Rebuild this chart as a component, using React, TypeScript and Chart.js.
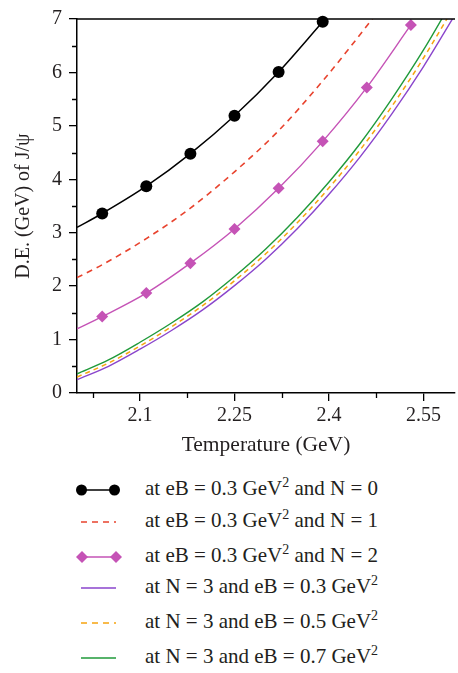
import React, { useEffect, useRef } from "react";
import { Chart, registerables } from "chart.js";

Chart.register(...registerables);

// ---- data ----
const tempN0 = [2.0, 2.04, 2.11, 2.18, 2.25, 2.32, 2.39];
const deN0 = [3.1, 3.36, 3.87, 4.48, 5.19, 6.01, 6.95];

const tempN1 = [2.0, 2.04, 2.11, 2.18, 2.25, 2.32, 2.39, 2.43, 2.47];
const deN1 = [2.16, 2.4, 2.89, 3.46, 4.14, 4.91, 5.84, 6.42, 7.02];

const tempN2 = [2.0, 2.04, 2.11, 2.18, 2.25, 2.32, 2.39, 2.46, 2.53];
const deN2 = [1.2, 1.43, 1.87, 2.43, 3.07, 3.83, 4.71, 5.72, 6.89];

const tempN3 = [2.0, 2.05, 2.1, 2.15, 2.2, 2.25, 2.3, 2.35, 2.4, 2.45, 2.5, 2.55, 2.6];
const deEB03 = [0.25, 0.5, 0.82, 1.17, 1.56, 2.01, 2.51, 3.08, 3.72, 4.43, 5.23, 6.11, 7.08];
const deEB05 = [0.3, 0.56, 0.88, 1.24, 1.64, 2.1, 2.61, 3.19, 3.84, 4.56, 5.37, 6.27, 7.26];
const deEB07 = [0.36, 0.62, 0.95, 1.31, 1.71, 2.18, 2.7, 3.29, 3.95, 4.68, 5.51, 6.42, 7.43];

const xMajorTicks = [2.1, 2.25, 2.4, 2.55];
const xMinorTicks = [2.025, 2.175, 2.325, 2.475];
const yMajorTicks = [0, 1, 2, 3, 4, 5, 6, 7];
const yMinorTicks = [0.5, 1.5, 2.5, 3.5, 4.5, 5.5, 6.5];

const legendLabels = [
  ["at eB = 0.3 GeV", "2", " and N = 0"],
  ["at eB = 0.3 GeV", "2", " and N = 1"],
  ["at eB = 0.3 GeV", "2", " and N = 2"],
  ["at N = 3 and eB = 0.3 GeV", "2", ""],
  ["at N = 3 and eB = 0.5 GeV", "2", ""],
  ["at N = 3 and eB = 0.7 GeV", "2", ""],
];

const FONT = "'Liberation Serif', 'Times New Roman', serif";
const TEXT = "#231f20";
const C_BLACK = "#000000";
const C_RED = "#e8432e";
const C_MAG = "#c553b6";
const C_PUR = "#8a45cc";
const C_ORG = "#f6a40f";
const C_GRN = "#1f9a3a";

const W = 461;
const H = 462;

const pts = (xs: number[], ys: number[]) => xs.map((x, i) => ({ x, y: ys[i] }));

const framePlugin = {
  id: "frameMinor",
  afterDraw(chart: any) {
    const { ctx, chartArea, scales } = chart;
    ctx.save();
    ctx.strokeStyle = "#000";
    ctx.lineWidth = 1.3;
    ctx.beginPath();
    ctx.moveTo(chartArea.left, chartArea.top);
    ctx.lineTo(chartArea.right, chartArea.top);
    xMinorTicks.forEach((v) => {
      const px = Math.round(scales.x.getPixelForValue(v)) + 0.5;
      ctx.moveTo(px, chartArea.bottom);
      ctx.lineTo(px, chartArea.bottom + 5);
    });
    yMinorTicks.forEach((v) => {
      const py = Math.round(scales.y.getPixelForValue(v)) + 0.5;
      ctx.moveTo(chartArea.left, py);
      ctx.lineTo(chartArea.left - 5, py);
    });
    ctx.stroke();
    ctx.restore();
  },
};

function LegendSample({ idx }: { idx: number }) {
  const y = 8;
  if (idx === 0) {
    return (
      <svg width="50" height="16">
        <line x1="5" y1={y} x2="38" y2={y} stroke={C_BLACK} strokeWidth="1.5" />
        <circle cx="5.5" cy={y} r="5.5" fill={C_BLACK} />
        <circle cx="38.5" cy={y} r="5.5" fill={C_BLACK} />
      </svg>
    );
  }
  if (idx === 2) {
    const d = (cx: number) => `M${cx - 6},${y} L${cx},${y - 6} L${cx + 6},${y} L${cx},${y + 6} Z`;
    return (
      <svg width="50" height="16">
        <line x1="5" y1={y} x2="40" y2={y} stroke={C_MAG} strokeWidth="1.5" />
        <path d={d(6)} fill={C_MAG} />
        <path d={d(40)} fill={C_MAG} />
      </svg>
    );
  }
  const cfg: Record<number, [string, string | undefined, number]> = {
    1: [C_RED, "6 5", 1.5],
    3: [C_PUR, undefined, 1.5],
    4: [C_ORG, "6 5", 1.5],
    5: [C_GRN, undefined, 1.5],
  };
  const [c, dash, w] = cfg[idx];
  return (
    <svg width="50" height="16">
      <line x1="5" y1={y} x2="40" y2={y} stroke={c} strokeWidth={w} strokeDasharray={dash} />
    </svg>
  );
}

const rowY = [490, 522, 557, 588, 623, 658];

export default function App() {
  const ref = useRef<HTMLCanvasElement | null>(null);

  useEffect(() => {
    if (!ref.current) return;
    const common = {
      showLine: true,
      fill: false,
      cubicInterpolationMode: "monotone" as const,
      pointHoverRadius: 0,
    };
    const chart = new Chart(ref.current, {
      type: "scatter",
      data: {
        datasets: [
          {
            ...common,
            label: "N0",
            data: pts(tempN0, deN0),
            borderColor: C_BLACK,
            backgroundColor: C_BLACK,
            borderWidth: 1.5,
            pointRadius: tempN0.map((_, i) => (i === 0 ? 0 : 6)),
            pointBorderWidth: 0,
            pointStyle: "circle",
            clip: { left: 0, top: 10, right: 0, bottom: 0 },
          },
          {
            ...common,
            label: "N1",
            data: pts(tempN1, deN1),
            borderColor: C_RED,
            borderWidth: 1.6,
            borderDash: [6, 5],
            pointRadius: 0,
          },
          {
            ...common,
            label: "N2",
            data: pts(tempN2, deN2),
            borderColor: C_MAG,
            backgroundColor: C_MAG,
            borderWidth: 1.4,
            pointRadius: tempN2.map((_, i) => (i === 0 ? 0 : 6)),
            pointBorderWidth: 0,
            pointStyle: "rectRot",
            clip: { left: 0, top: 10, right: 0, bottom: 0 },
          },
          {
            ...common,
            label: "eB03",
            data: pts(tempN3, deEB03),
            borderColor: C_PUR,
            borderWidth: 1.4,
            pointRadius: 0,
          },
          {
            ...common,
            label: "eB05",
            data: pts(tempN3, deEB05),
            borderColor: C_ORG,
            borderWidth: 1.5,
            borderDash: [5, 4],
            pointRadius: 0,
          },
          {
            ...common,
            label: "eB07",
            data: pts(tempN3, deEB07),
            borderColor: C_GRN,
            borderWidth: 1.4,
            pointRadius: 0,
          },
        ],
      },
      options: {
        responsive: false,
        animation: false,
        devicePixelRatio: 1,
        layout: { padding: { top: 8, left: 0, right: 0, bottom: 0 } },
        plugins: {
          legend: { display: false },
          tooltip: { enabled: false },
        },
        scales: {
          x: {
            type: "linear",
            position: "bottom",
            min: 2.0,
            max: 2.6,
            afterBuildTicks: (s: any) => {
              s.ticks = xMajorTicks.map((v) => ({ value: v }));
            },
            afterFit: (s: any) => {
              s.height = 69;
            },
            grid: {
              display: true,
              drawOnChartArea: false,
              drawTicks: true,
              tickLength: 8,
              color: "#000",
              lineWidth: 1.3,
            },
            border: { display: true, color: "#000", width: 1.5 },
            ticks: {
              font: { family: FONT, size: 20 },
              color: TEXT,
              padding: 3,
              maxRotation: 0,
              autoSkip: false,
              callback: (v: any) => String(v),
            },
            title: {
              display: true,
              text: "Temperature (GeV)",
              font: { family: FONT, size: 21.5 },
              color: TEXT,
              padding: { top: 0, bottom: 4 },
            },
          },
          y: {
            type: "linear",
            min: 0,
            max: 7,
            afterBuildTicks: (s: any) => {
              s.ticks = yMajorTicks.map((v) => ({ value: v }));
            },
            afterFit: (s: any) => {
              s.width = 77;
            },
            grid: {
              display: true,
              drawOnChartArea: false,
              drawTicks: true,
              tickLength: 8,
              color: "#000",
              lineWidth: 1.3,
            },
            border: { display: true, color: "#000", width: 1.5 },
            ticks: {
              font: { family: FONT, size: 20 },
              color: TEXT,
              padding: 7,
              callback: (v: any) => String(v),
            },
            title: {
              display: true,
              text: "D.E. (GeV) of J/\u03c8",
              font: { family: FONT, size: 20 },
              color: TEXT,
              padding: { top: 12, bottom: 0 },
            },
          },
        },
      },
      plugins: [framePlugin],
    } as any);
    return () => chart.destroy();
  }, []);

  return (
    <div
      style={{
        position: "absolute",
        left: 0,
        top: 0,
        width: 458,
        height: 673,
        overflow: "hidden",
        background: "#fff",
      }}
    >
      <canvas ref={ref} width={W} height={H} style={{ display: "block", width: W, height: H }} />
      {legendLabels.map((lab, i) => (
        <div key={i}>
          <div style={{ position: "absolute", left: 76, top: rowY[i] - 8, width: 50, height: 16 }}>
            <LegendSample idx={i} />
          </div>
          <div
            style={{
              position: "absolute",
              left: 145,
              top: rowY[i] - 14,
              height: 24,
              lineHeight: "24px",
              fontFamily: FONT,
              fontSize: 21,
              color: TEXT,
              whiteSpace: "nowrap",
            }}
          >
            {lab[0]}
            {lab[1] && (
              <span style={{ fontSize: 14, position: "relative", top: -8 }}>{lab[1]}</span>
            )}
            {lab[2]}
          </div>
        </div>
      ))}
    </div>
  );
}
